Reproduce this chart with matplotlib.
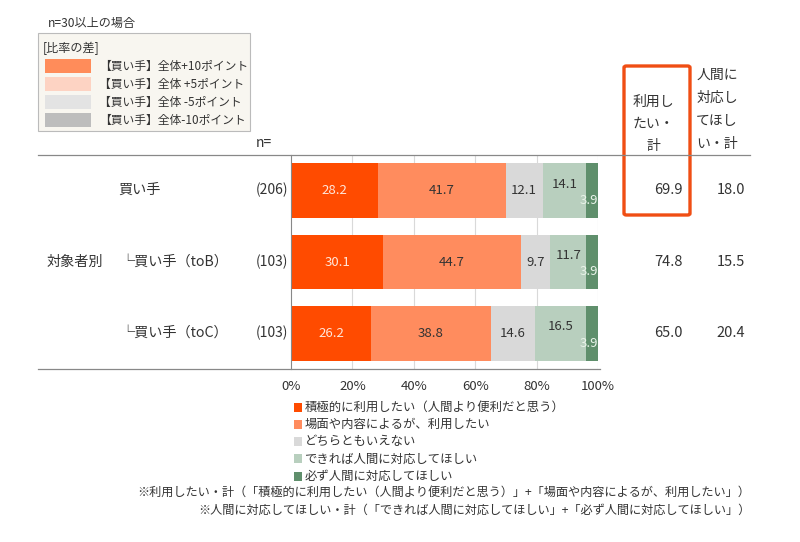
import matplotlib.pyplot as plt
from matplotlib.patches import Rectangle, FancyBboxPatch
from matplotlib.lines import Line2D

plt.rcParams['font.family'] = ['Noto Sans CJK JP', 'DejaVu Sans']

# --- data ---
rows = ["買い手", "└買い手（toB）", "└買い手（toC）"]
n_values = ["(206)", "(103)", "(103)"]
categories = ["積極的に利用したい（人間より便利だと思う）", "場面や内容によるが、利用したい",
              "どちらともいえない", "できれば人間に対応してほしい", "必ず人間に対応してほしい"]
active_use = [28.2, 30.1, 26.2]
situational = [41.7, 44.7, 38.8]
neutral = [12.1, 9.7, 14.6]
prefer_human = [14.1, 11.7, 16.5]
must_human = [3.9, 3.9, 3.9]
use_total = [69.9, 74.8, 65.0]
human_total = [18.0, 15.5, 20.4]
diff_labels = ["【買い手】全体+10ポイント", "【買い手】全体 +5ポイント",
               "【買い手】全体 -5ポイント", "【買い手】全体-10ポイント"]
ticks = [0, 20, 40, 60, 80, 100]

colors = ["#FF4B00", "#FF8C5E", "#D9D9D9", "#B8CFBE", "#5F8F6C"]
diff_colors = ["#FF8C5A", "#FDD3C3", "#E3E3E3", "#BDBDBD"]

W, H = 800, 542
fig = plt.figure(figsize=(W / 100, H / 100), dpi=100)


def fx(x):
    return x / W


def fy(y):
    return 1 - y / H


def ptext(x, y, s, **kw):
    kw.setdefault('fontsize', 8.5)
    kw.setdefault('color', '#333333')
    kw.setdefault('va', 'center')
    fig.text(fx(x), fy(y), s, **kw)


# --- main bar axes ---
ax = fig.add_axes([fx(291), fy(369), fx(598) - fx(291), fy(155) - fy(369)])
series = [active_use, situational, neutral, prefer_human, must_human]
ypos = list(range(len(rows)))
left = [0.0] * len(rows)
for k, vals in enumerate(series):
    ax.barh(ypos, vals, left=left, height=0.77, color=colors[k], zorder=2)
    for i, v in enumerate(vals):
        cx = left[i] + v / 2
        if k == 0:
            ax.text(cx, i, f"{v:.1f}", ha='center', va='center', fontsize=9.5, color='#FFE6DA', zorder=3)
        elif k == 3:
            ax.text(cx, i - 0.09, f"{v:.1f}", ha='center', va='center', fontsize=9.5, color='#333333', zorder=3)
        elif k == 4:
            ax.text(left[i] + v, i + 0.14, f"{v:.1f}", ha='right', va='center', fontsize=9.5, color='#EAF4EA', zorder=3)
        else:
            ax.text(cx, i, f"{v:.1f}", ha='center', va='center', fontsize=9.5, color='#333333', zorder=3)
        left[i] += v

ax.set_xlim(0, 100)
ax.set_ylim(2.5, -0.5)
for t in ticks[1:]:
    ax.axvline(t, color='#D9D9D9', lw=0.8, zorder=1)
ax.set_xticks([])
ax.set_yticks([])
for side in ['top', 'bottom', 'right']:
    ax.spines[side].set_visible(False)
ax.spines['left'].set_color('#888888')
ax.patch.set_alpha(0)

# tick labels under the axis
for t in ticks:
    ptext(291 + t / 100 * 307, 386, f"{t}%", ha='center', fontsize=9.5)

# table lines
fig.add_artist(Line2D([fx(38), fx(750)], [fy(155), fy(155)], color='#888888', lw=0.9))
fig.add_artist(Line2D([fx(38), fx(600)], [fy(369), fy(369)], color='#888888', lw=0.9))

# row labels and n
row_y = [190, 262, 333]
ptext(47, 262, "対象者別", fontsize=10.2)
ptext(118, row_y[0], rows[0], fontsize=10.2)
for i in (1, 2):
    ptext(120, row_y[i], rows[i], fontsize=10.2)
for i, n in enumerate(n_values):
    ptext(288, row_y[i], n, ha='right', fontsize=10)
ptext(256, 143, "n=", fontsize=10)

# right columns
for j, line in enumerate(["利用し", "たい・", "計"]):
    ptext(653, 102 + j * 22, line, ha='center', fontsize=10)
for j, line in enumerate(["人間に", "対応し", "てほし", "い・計"]):
    ptext(717, 75 + j * 23, line, ha='center', fontsize=10)
for i in range(len(rows)):
    ptext(683, row_y[i], f"{use_total[i]:.1f}", ha='right', fontsize=10.5)
    ptext(745, row_y[i], f"{human_total[i]:.1f}", ha='right', fontsize=10.5)

fig.add_artist(FancyBboxPatch((fx(624), fy(215)), fx(690) - fx(624), fy(66) - fy(215),
                              boxstyle="round,pad=0,rounding_size=0.003",
                              fill=False, edgecolor='#F04E14', lw=2.4, transform=fig.transFigure))

# top-left difference legend
ptext(48, 23, "n=30以上の場合", fontsize=8.7)
fig.add_artist(Rectangle((fx(38), fy(131)), fx(250) - fx(38), fy(33) - fy(131),
                         facecolor='#F8F6F0', edgecolor='#BBBBBB', lw=0.8, transform=fig.transFigure))
ptext(43, 48, "[比率の差]", fontsize=8.7)
for j, (lab, c) in enumerate(zip(diff_labels, diff_colors)):
    yc = 66 + j * 18
    fig.add_artist(Rectangle((fx(45), fy(yc + 7)), fx(46), 14 / H, facecolor=c,
                             edgecolor='none', transform=fig.transFigure))
    ptext(99, yc, lab, fontsize=8.5)

# bottom legend
for j, (lab, c) in enumerate(zip(categories, colors)):
    yc = 407 + j * 17.3
    fig.add_artist(Rectangle((fx(294), fy(yc + 4.5)), 8 / W, 9 / H, facecolor=c,
                             edgecolor='none', transform=fig.transFigure))
    ptext(305, yc, lab, fontsize=8.9)

ptext(750, 492, "※利用したい・計（「積極的に利用したい（人間より便利だと思う）」+「場面や内容によるが、利用したい」）",
      ha='right', fontsize=8.75)
ptext(750, 510, "※人間に対応してほしい・計（「できれば人間に対応してほしい」+「必ず人間に対応してほしい」）",
      ha='right', fontsize=8.75)

fig.savefig("out.png", dpi=100, facecolor='white')
